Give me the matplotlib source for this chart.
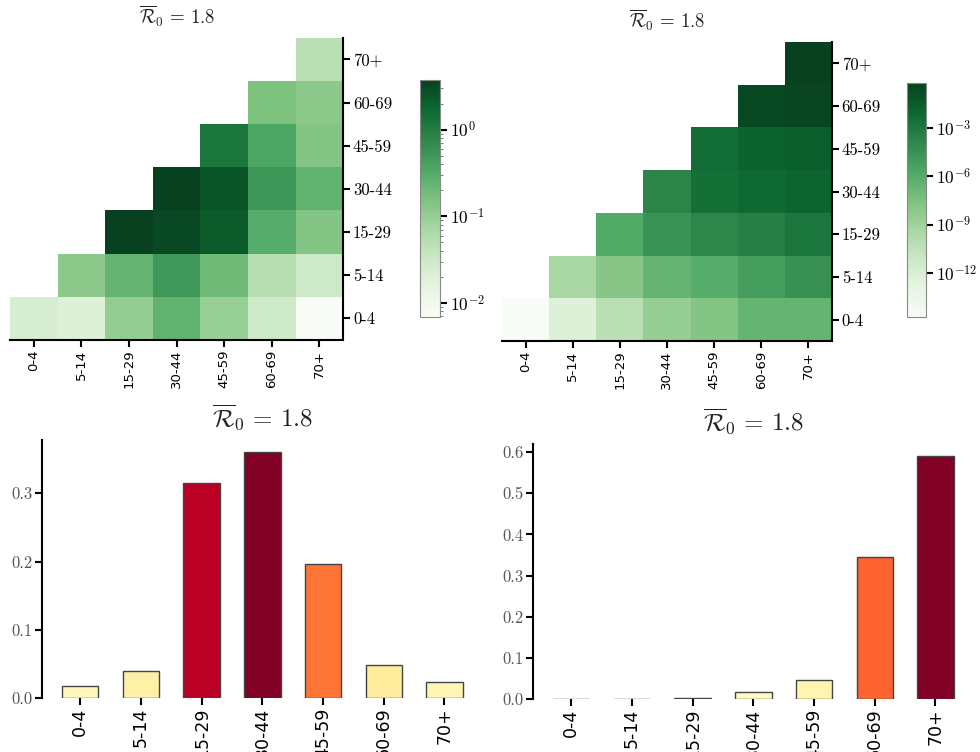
"""
Contact matrices (log scale) and age distributions for R0 = 1.8.
"""
import numpy as np
import matplotlib.pyplot as plt
from matplotlib.colors import LogNorm, ListedColormap
from matplotlib.ticker import FuncFormatter

plt.rcParams["mathtext.fontset"] = "cm"
plt.rcParams["axes.formatter.use_mathtext"] = True

AGE_GROUPS = ["0-4", "5-14", "15-29", "30-44", "45-59", "60-69", "70+"]
TITLE = r"$\overline{\mathcal{R}}_0\,=\,1.8$"

nan = np.nan
# rows: age group on the y axis (0-4 first), columns: age group on x axis
left_matrix = [
    [0.0244, 0.0202, 0.104, 0.251, 0.0975, 0.0313, 0.0069],
    [nan, 0.125, 0.235, 0.50, 0.195, 0.0519, 0.0313],
    [nan, nan, 3.76, 3.31, 2.2, 0.303, 0.142],
    [nan, nan, nan, 3.76, 2.5, 0.533, 0.251],
    [nan, nan, nan, nan, 1.2, 0.366, 0.142],
    [nan, nan, nan, nan, nan, 0.161, 0.125],
    [nan, nan, nan, nan, nan, nan, 0.0487],
]
right_matrix = [
    [1.8e-15, 5.4e-13, 5.8e-11, 3.2e-9, 1.7e-8, 2.5e-7, 2.5e-7],
    [nan, 5.1e-10, 1.2e-8, 2.5e-7, 9.8e-7, 7.2e-6, 3.9e-5],
    [nan, nan, 1.35e-6, 2.8e-5, 1.5e-4, 4.1e-4, 1.55e-3],
    [nan, nan, nan, 2.0e-4, 3.4e-3, 8.3e-3, 1.3e-2],
    [nan, nan, nan, nan, 5.5e-3, 1.8e-2, 2.8e-2],
    [nan, nan, nan, nan, nan, 0.33, 0.39],
    [nan, nan, nan, nan, nan, nan, 0.65],
]
right_cbar_ticks = [1e-12, 1e-9, 1e-6, 1e-3]

left_bars = [0.017, 0.039, 0.315, 0.36, 0.197, 0.049, 0.024]
right_bars = [0.0005, 0.0005, 0.002, 0.017, 0.046, 0.345, 0.59]

# slightly muted version of Greens
_g = plt.cm.Greens(np.linspace(0, 1, 256))
_lum = (_g[:, :3] @ np.array([0.2126, 0.7152, 0.0722]))[:, None]
_g[:, :3] = 0.85 * _g[:, :3] + 0.15 * _lum
greens = ListedColormap(_g)

fig = plt.figure(figsize=(9.8, 7.52), dpi=100)


def heatmap(ax_pos, cax_pos, matrix, cbar_ticks=None):
    ax = fig.add_axes(ax_pos)
    data = np.ma.masked_invalid(np.array(matrix, dtype=float))
    n = len(AGE_GROUPS)
    norm = LogNorm(vmin=data.min(), vmax=data.max())
    mesh = ax.pcolormesh(np.arange(n + 1), np.arange(n + 1), data,
                         cmap=greens, norm=norm)
    ax.set_xlim(0, n)
    ax.set_ylim(0, n)
    ax.set_xticks(np.arange(n) + 0.5)
    ax.set_xticklabels(AGE_GROUPS, rotation=90, fontsize=9.5,
                       family="DejaVu Sans")
    ax.set_yticks(np.arange(n) + 0.5)
    ax.set_yticklabels(AGE_GROUPS, fontsize=12, family="cmr10")
    ax.yaxis.tick_right()
    ax.spines["top"].set_visible(False)
    ax.spines["left"].set_visible(False)
    ax.spines["bottom"].set_linewidth(1.5)
    ax.spines["right"].set_linewidth(1.5)
    ax.tick_params(length=5, width=1.5, pad=2)
    ax.set_title(TITLE, fontsize=13.5, pad=10, color="#222222")

    cax = fig.add_axes(cax_pos)
    cb = fig.colorbar(mesh, cax=cax)
    cb.outline.set_edgecolor("#888888")
    cb.outline.set_linewidth(0.8)
    if cbar_ticks is not None:
        cb.set_ticks(cbar_ticks)
        cb.ax.minorticks_off()
    cb.ax.yaxis.set_major_formatter(
        FuncFormatter(lambda v, p: r"$10^{%d}$" % round(np.log10(v))))
    cb.ax.tick_params(which="major", length=5, width=1.5, labelsize=12.5,
                      pad=2)
    cb.ax.tick_params(which="minor", length=2.5, width=0.6, color="#666666")
    return ax


def barplot(ax_pos, values, yticks):
    ax = fig.add_axes(ax_pos)
    vals = np.array(values)
    colors = plt.cm.YlOrRd(vals / vals.max())
    x = np.arange(len(AGE_GROUPS))
    ax.bar(x, vals, width=0.6, color=colors, edgecolor="#444444", linewidth=1)
    ax.set_xticks(x)
    ax.set_xticklabels(AGE_GROUPS, rotation=90, fontsize=12.5)
    ax.set_xlim(-0.63, 6.62)
    ax.set_ylim(0, vals.max() * 1.05)
    ax.set_yticks(yticks)
    ax.set_yticklabels([f"{t:.1f}" for t in yticks], family="cmr10",
                       fontsize=12, color="#555555")
    for side in ["top", "right", "bottom"]:
        ax.spines[side].set_visible(False)
    ax.spines["left"].set_linewidth(1.5)
    ax.tick_params(length=5, width=1.5, pad=2)
    ax.set_title(TITLE, fontsize=18, pad=10, color="#222222")
    return ax


heatmap([0.0102, 0.548, 0.340, 0.4016], [0.4286, 0.5785, 0.0204, 0.3152],
        left_matrix)
heatmap([0.5122, 0.5465, 0.3367, 0.3976], [0.9255, 0.5785, 0.0194, 0.311],
        right_matrix, right_cbar_ticks)

barplot([0.0429, 0.0718, 0.4490, 0.343], left_bars,
        [0.0, 0.1, 0.2, 0.3])
barplot([0.5439, 0.0705, 0.4490, 0.339], right_bars,
        [0.0, 0.1, 0.2, 0.3, 0.4, 0.5, 0.6])

fig.savefig("out.png", dpi=100)
plt.close()
